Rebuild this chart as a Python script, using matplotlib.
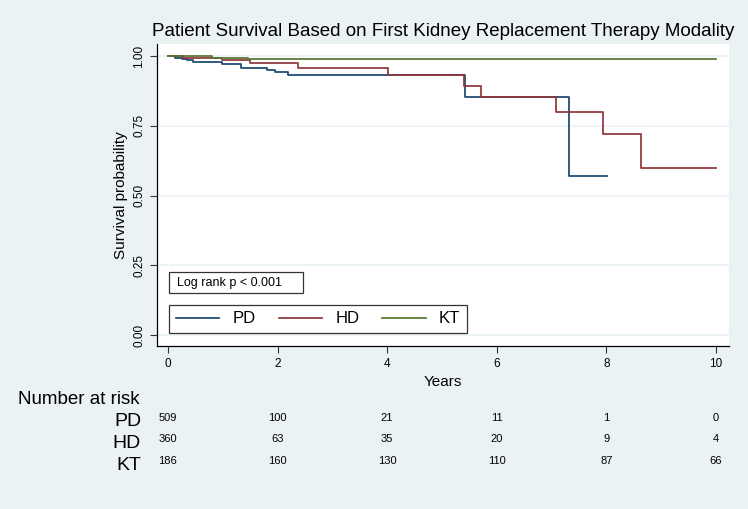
import numpy as np
import matplotlib
matplotlib.use("Agg")
import matplotlib.pyplot as plt
from matplotlib.patches import Rectangle
import matplotlib.transforms as mtransforms

plt.rcParams["font.family"] = ["Liberation Sans", "DejaVu Sans"]

# Kaplan-Meier step data (time in years, survival after step)
PD_TIME = [0, 0.13, 0.25, 0.35, 0.46, 0.64, 0.98, 1.34, 1.80, 1.95, 2.20, 5.43, 7.32, 8.02]
PD_SURV = [1.0, 0.992, 0.988, 0.985, 0.980, 0.977, 0.972, 0.958, 0.950, 0.942, 0.932, 0.854, 0.570, 0.570]

HD_TIME = [0, 0.28, 0.98, 1.50, 2.38, 4.02, 5.41, 5.72, 7.09, 7.94, 8.63, 10.0]
HD_SURV = [1.0, 0.994, 0.986, 0.974, 0.958, 0.932, 0.892, 0.854, 0.800, 0.719, 0.600, 0.600]

KT_TIME = [0, 0.80, 1.47, 10.0]
KT_SURV = [1.0, 0.994, 0.988, 0.988]

GROUPS = ["PD", "HD", "KT"]
COLORS = ["#1A476F", "#90353B", "#55752F"]

RISK_TIMES = [0, 2, 4, 6, 8, 10]
RISK_PD = [509, 100, 21, 11, 1, 0]
RISK_HD = [360, 63, 35, 20, 9, 4]
RISK_KT = [186, 160, 130, 110, 87, 66]

X_TICKS = [0, 2, 4, 6, 8, 10]
Y_TICKS = [0.0, 0.25, 0.5, 0.75, 1.0]

BG = "#EAF2F3"

fig = plt.figure(figsize=(7.48, 5.09), dpi=100, facecolor=BG)
ax = fig.add_axes([157 / 748, 1 - 346 / 509, 572 / 748, 302 / 509])
ax.set_facecolor("white")

series = [(PD_TIME, PD_SURV), (HD_TIME, HD_SURV), (KT_TIME, KT_SURV)]
for (t, s), name, c in zip(series, GROUPS, COLORS):
    ax.step(t, s, where="post", color=c, lw=1.25, label=name)

ax.set_xlim(-0.2, 10.24)
ax.set_ylim(-0.039, 1.043)
ax.set_xticks(X_TICKS)
ax.set_yticks(Y_TICKS)
ax.set_yticklabels([f"{v:.2f}" for v in Y_TICKS], rotation=90, va="center")
ax.grid(axis="y", color=BG, lw=1.2)
ax.set_axisbelow(True)
ax.tick_params(labelsize=8.5, length=5, width=0.8, color="#333333")
for side in ["top", "right"]:
    ax.spines[side].set_visible(False)
for side in ["left", "bottom"]:
    ax.spines[side].set_linewidth(0.9)

ax.set_xlabel("Years", fontsize=11, labelpad=4)
ax.set_ylabel("Survival probability", fontsize=11, labelpad=4)
fig.text(0.5 * (150 + 737) / 748, 1 - 31 / 509,
         "Patient Survival Based on First Kidney Replacement Therapy Modality",
         ha="center", va="center", fontsize=13.5)

# log rank box
ax.add_patch(Rectangle((0.021, 0.175), 0.234, 0.07, transform=ax.transAxes,
                       fill=False, edgecolor="#333333", lw=0.9, zorder=5))
ax.text(0.035, 0.21, "Log rank p < 0.001", transform=ax.transAxes,
        fontsize=9, va="center", ha="left", zorder=6)

leg = ax.legend(loc="lower left", bbox_to_anchor=(0.021, 0.043, 0.521, 0.113),
                mode="expand", ncol=3, fancybox=False, edgecolor="#333333",
                fontsize=12, handlelength=2.6, handletextpad=0.8,
                borderaxespad=0, framealpha=1, columnspacing=2.0)
leg.get_frame().set_linewidth(0.9)

# number at risk table
trans = mtransforms.blended_transform_factory(ax.transData, fig.transFigure)
fig.text(18 / 748, 1 - 400 / 509, "Number at risk", fontsize=13.5,
         ha="left", va="center")
rows = [RISK_PD, RISK_HD, RISK_KT]
row_y = [418, 439, 461]
for name, vals, y in zip(GROUPS, rows, row_y):
    fig.text(141 / 748, 1 - (y + 4) / 509, name, fontsize=14,
             ha="right", va="center")
    for t, v in zip(RISK_TIMES, vals):
        fig.text(t, 1 - y / 509, str(v), transform=trans, fontsize=8,
                 ha="center", va="center",
                 family=["Liberation Sans Narrow", "Liberation Sans"])

fig.savefig("out.png", dpi=100, facecolor=BG)
